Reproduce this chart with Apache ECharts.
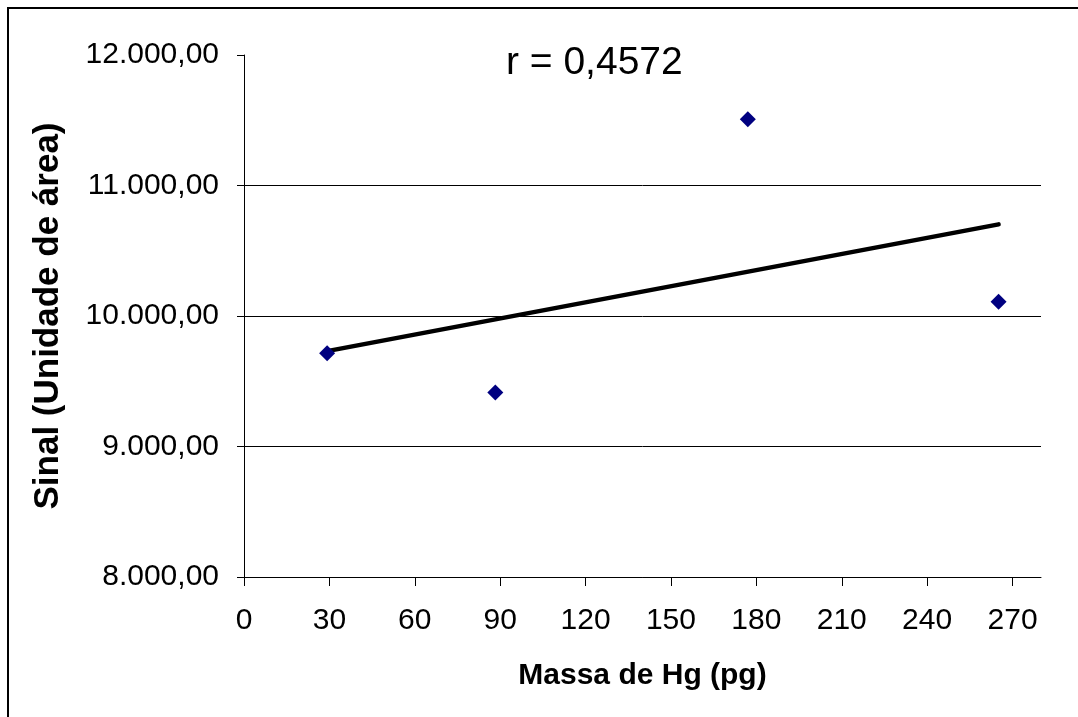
<!DOCTYPE html>
<html>
<head>
<meta charset="utf-8">
<script src="https://cdn.jsdelivr.net/npm/echarts@6/dist/echarts.min.js"></script>
<style>
  html, body { margin: 0; padding: 0; background: #fff; }
  #chart { width: 1078px; height: 717px; }
</style>
</head>
<body>
<div id="chart"></div>
<script>
  // measured points (massa de Hg in pg, sinal in area units)
  const massa = [29.2, 88.3, 177.0, 265.1]
  const sinal = [9714, 9413, 11508, 10109]

  // linear trend, end points
  const trendMassa = [29.2, 265.1]
  const trendSinal = [9731, 10702]

  const rText = 'r = 0,4572'

  const fmtBR = function (v) {
    const parts = v.toFixed(2).split('.')
    return parts[0].replace(/\B(?=(\d{3})+(?!\d))/g, '.') + ',' + parts[1]
  }

  const chart = echarts.init(document.getElementById('chart'))
  const font = 'Liberation Sans, Arial, sans-serif'

  chart.setOption({
    animation: false,
    backgroundColor: '#fff',
    textStyle: { fontFamily: font },
    grid: { left: 244, right: 37, top: 55, bottom: 140 },
    graphic: [
      {
        type: 'rect',
        shape: { x: 8, y: 8, width: 1200, height: 800 },
        style: { fill: 'none', stroke: '#000', lineWidth: 2 }
      },
      {
        type: 'text',
        left: 506,
        top: 44,
        style: { text: rText, font: '39px ' + font, fill: '#000' }
      }
    ],
    xAxis: {
      type: 'value',
      min: 0,
      max: 280,
      interval: 30,
      name: 'Massa de Hg (pg)',
      nameLocation: 'middle',
      nameGap: 84,
      nameTextStyle: { fontSize: 30, fontWeight: 'bold', color: '#000', fontFamily: font },
      axisLine: { show: true, onZero: false, lineStyle: { color: '#000', width: 1 } },
      axisTick: { show: true, inside: false, length: 9, lineStyle: { color: '#000' } },
      axisLabel: { fontSize: 30, color: '#000', margin: 29, fontFamily: font, showMaxLabel: false },
      splitLine: { show: false }
    },
    yAxis: {
      type: 'value',
      min: 8000,
      max: 12000,
      interval: 1000,
      name: 'Sinal (Unidade de área)',
      nameLocation: 'middle',
      nameGap: 178,
      nameTextStyle: { fontSize: 35, fontWeight: 'bold', color: '#000', fontFamily: font },
      axisLine: { show: true, lineStyle: { color: '#000', width: 1 } },
      axisTick: { show: true, inside: false, length: 7, lineStyle: { color: '#000' } },
      axisLabel: { fontSize: 30, color: '#000', margin: 25, fontFamily: font, formatter: fmtBR },
      splitLine: { show: true, showMaxLine: false, lineStyle: { color: '#000', width: 1 } }
    },
    series: [
      {
        name: 'tendencia',
        type: 'line',
        data: trendMassa.map((x, i) => [x, trendSinal[i]]),
        symbol: 'none',
        lineStyle: { color: '#000', width: 4.5, cap: 'round' },
        z: 2
      },
      {
        name: 'sinal',
        type: 'scatter',
        data: massa.map((x, i) => [x, sinal[i]]),
        symbol: 'diamond',
        symbolSize: [16, 16],
        itemStyle: { color: '#000080', opacity: 1 },
        z: 3
      }
    ]
  })
</script>
</body>
</html>
